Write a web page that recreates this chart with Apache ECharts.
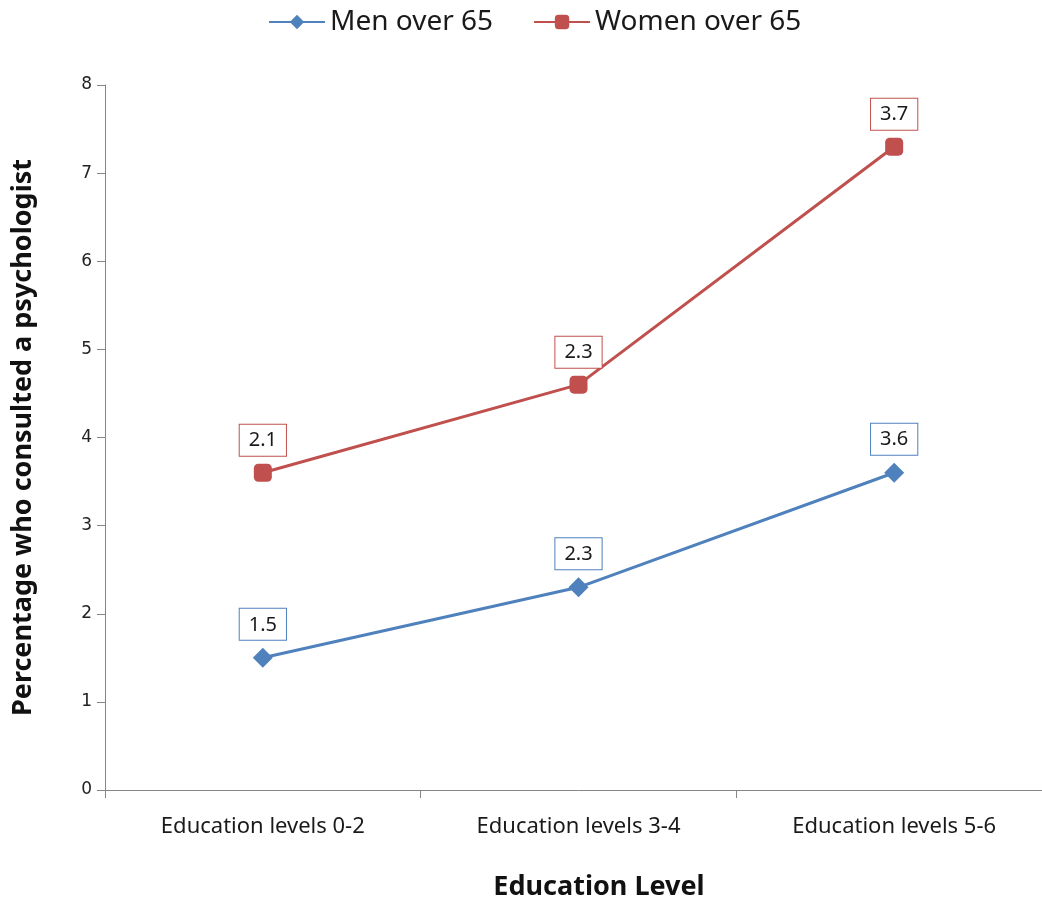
<!DOCTYPE html>
<html>
<head>
<meta charset="utf-8">
<title>Psychologist consultations by education level</title>
<script src="https://cdn.jsdelivr.net/npm/echarts@6/dist/echarts.min.js"></script>
<style>
  html, body { margin: 0; padding: 0; background: #ffffff; overflow: hidden; }
  /* the plot area runs slightly past the right edge of the page */
  #chart { width: 1062px; height: 901px; }
</style>
</head>
<body>
<div id="chart"></div>
<script>
// Education groups on the horizontal axis
const categories = ['Education levels 0-2', 'Education levels 3-4', 'Education levels 5-6'];
// Percentage values per group (women are stacked on top of men)
const menOver65 = [1.5, 2.3, 3.6];
const womenOver65 = [2.1, 2.3, 3.7];
// Vertical axis range
const yMin = 0;
const yMax = 8;
const yStep = 1;

const BLUE = '#4F81BD';
const RED = '#C0504D';
const FONT = 'Noto Sans';

function boxedLabel(color) {
  return {
    show: true,
    position: 'top',
    distance: 8,
    formatter: p => p.value.toFixed(1),
    color: '#1a1a1a',
    fontFamily: FONT,
    fontSize: 20,
    backgroundColor: '#ffffff',
    borderColor: color,
    borderWidth: 1,
    padding: [6, 9, 5, 9]
  };
}

const chart = echarts.init(document.getElementById('chart'));
chart.setOption({
  animation: false,
  backgroundColor: '#ffffff',
  legend: {
    top: 3,
    left: 263,
    itemWidth: 56,
    itemHeight: 18,
    itemGap: 40,
    textStyle: { fontFamily: FONT, fontSize: 28, color: '#1a1a1a' },
    data: ['Men over 65', 'Women over 65']
  },
  grid: { left: 105, top: 85, bottom: 111, width: 947, outerBoundsMode: 'none' },
  xAxis: {
    type: 'category',
    data: categories,
    boundaryGap: true,
    name: 'Education Level',
    nameLocation: 'middle',
    nameGap: 84,
    nameTextStyle: { fontFamily: FONT, fontSize: 27, fontWeight: 'bold', color: '#111', padding: [0, 0, 0, 41] },
    axisLine: { lineStyle: { color: '#868686', width: 1 } },
    axisTick: { show: true, length: 8, lineStyle: { color: '#868686' } },
    axisLabel: { margin: 26, fontFamily: FONT, fontSize: 22, color: '#1a1a1a' },
    splitLine: { show: false }
  },
  yAxis: {
    type: 'value',
    min: yMin,
    max: yMax,
    interval: yStep,
    name: 'Percentage who consulted a psychologist',
    nameLocation: 'middle',
    nameGap: 68,
    nameTextStyle: { fontFamily: FONT, fontSize: 27, fontWeight: 'bold', color: '#111' },
    axisLine: { show: true, lineStyle: { color: '#868686', width: 1 } },
    axisTick: { show: true, length: 8, lineStyle: { color: '#868686' } },
    axisLabel: { margin: 13, fontFamily: 'DejaVu Sans', fontSize: 17, color: '#222' },
    splitLine: { show: false }
  },
  series: [
    {
      name: 'Men over 65',
      type: 'line',
      stack: 'total',
      data: menOver65,
      symbol: 'diamond',
      symbolSize: 20,
      lineStyle: { color: BLUE, width: 3 },
      itemStyle: { color: BLUE },
      label: boxedLabel(BLUE)
    },
    {
      name: 'Women over 65',
      type: 'line',
      stack: 'total',
      data: womenOver65,
      symbol: 'roundRect',
      symbolSize: 18,
      lineStyle: { color: RED, width: 3 },
      itemStyle: { color: RED },
      label: boxedLabel(RED)
    }
  ]
});
</script>
</body>
</html>
